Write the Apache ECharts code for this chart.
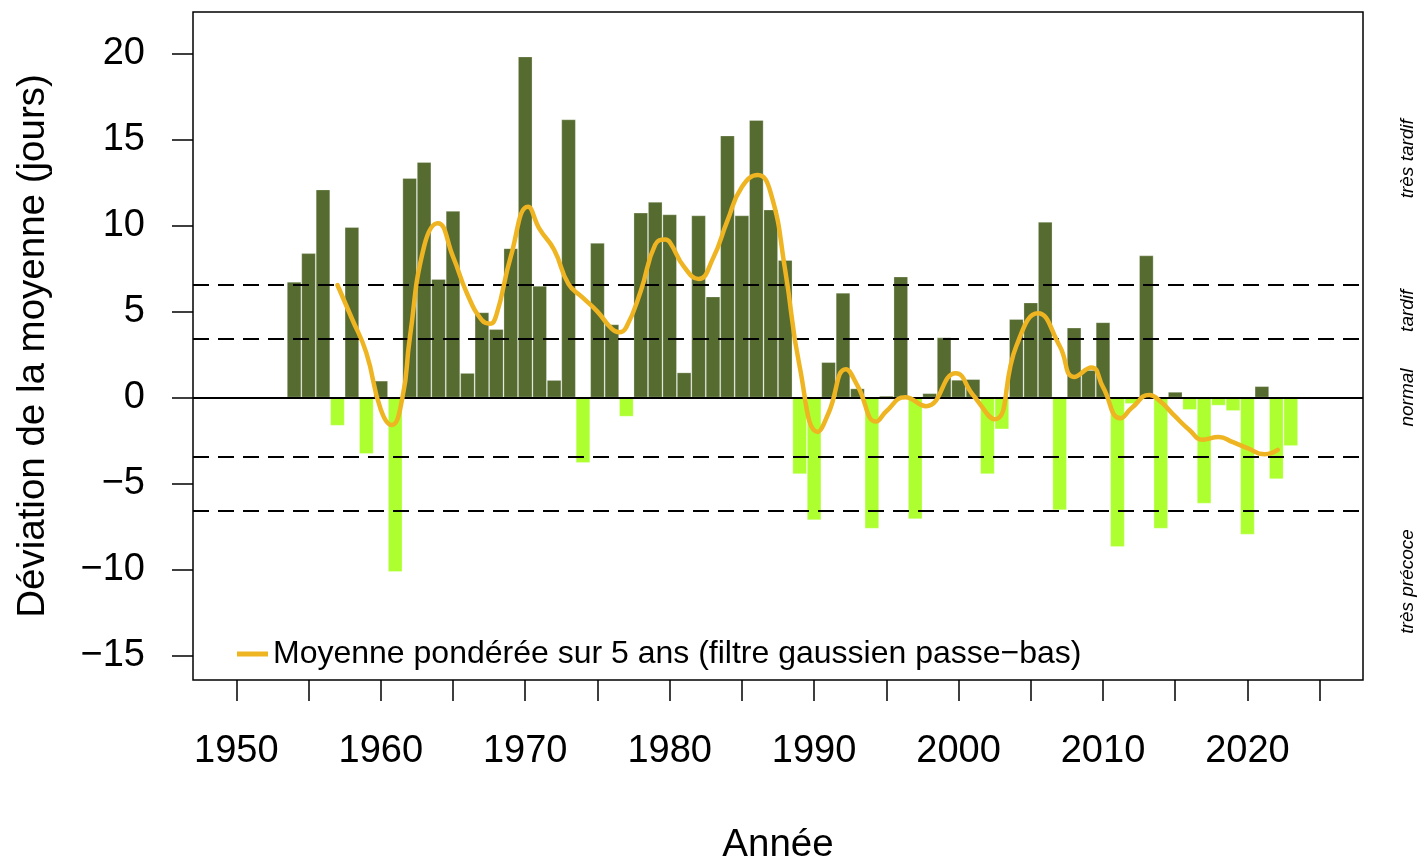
<!DOCTYPE html>
<html><head><meta charset="utf-8">
<script src="https://cdn.jsdelivr.net/npm/echarts@6/dist/echarts.min.js"></script>
<style>html,body{margin:0;padding:0;background:#fff}#c{width:1417px;height:857px}</style>
</head><body><div id="c"></div>
<script>
const barYears = [1954,1955,1956,1957,1958,1959,1960,1961,1962,1963,1964,1965,1966,1967,1968,1969,1970,1971,1972,1973,1974,1975,1976,1977,1978,1979,1980,1981,1982,1983,1984,1985,1986,1987,1988,1989,1990,1991,1992,1993,1994,1995,1996,1997,1998,1999,2000,2001,2002,2003,2004,2005,2006,2007,2008,2009,2010,2011,2012,2013,2014,2015,2016,2017,2018,2019,2020,2021,2022,2023];
const barValues = [6.74,8.40,12.11,-1.64,9.92,-3.28,0.98,-10.15,12.77,13.71,6.9,10.86,1.43,4.96,3.98,8.69,19.85,6.5,1.02,16.19,-3.81,9.0,4.26,-1.11,10.76,11.39,10.66,1.46,10.6,5.88,15.25,10.6,16.15,10.94,8.0,-4.46,-7.14,2.06,6.1,0.53,-7.63,0.1,7.04,-7.08,0.25,3.5,1.03,1.07,-4.46,-1.85,4.57,5.53,10.23,-6.56,4.07,1.6,4.38,-8.7,-0.37,8.27,-7.63,0.33,-0.72,-6.17,-0.47,-0.78,-7.98,0.66,-4.75,-2.82];
// smoothed curve (yearly readings plus its turning points)
const smoothX = [1957,1958,1959,1960,1960.75,1961.5,1962,1963,1963.95,1965,1966,1967,1967.55,1968,1969,1970.2,1971,1972,1973,1974,1975,1976,1976.5,1977,1978,1979,1979.7,1980,1981,1982,1983,1984,1985,1986.1,1987,1988,1989,1990.25,1991,1992.2,1993,1994.3,1995,1996.3,1997.75,1999.8,2001,2002.5,2004,2005.5,2007,2008,2009.2,2010,2011.2,2012,2013.2,2014,2015,2016,2016.9,2018,2019,2020,2021.2,2022.1];
const smoothY = [6.55,4.6,2.6,-0.7,-1.6,0.0,3.4,8.8,10.15,8.2,6.0,4.5,4.3,4.8,8.2,11.1,9.8,8.6,6.6,5.8,5.0,4.0,3.8,4.1,6.2,8.9,9.2,9.05,7.6,6.9,8.1,10.3,12.25,12.95,11.9,7.4,1.8,-2.0,-0.9,1.65,0.7,-1.4,-0.8,0.02,-0.5,1.42,0.15,-1.26,3.0,4.9,3.0,1.2,1.75,0.6,-1.2,-0.6,0.15,-0.25,-1.1,-1.9,-2.45,-2.3,-2.6,-2.95,-3.3,-3.05];
const thresholds = [6.58, 3.45, -3.45, -6.58];
const xTicks = [1950,1955,1960,1965,1970,1975,1980,1985,1990,1995,2000,2005,2010,2015,2020,2025];
const xLabels = [1950,1960,1970,1980,1990,2000,2010,2020];
const yTicks = [-15,-10,-5,0,5,10,15,20];
const bandLabels = ['très tardif','tardif','normal','très précoce'];
const bandLabelValues = [13.9, 5.05, 0, -10.7];
const lineName = 'Moyenne pondérée sur 5 ans (filtre gaussien passe\u2212bas)';

const FONT = "'Liberation Sans', Arial, Helvetica, sans-serif";
const chart = echarts.init(document.getElementById('c'), null, {renderer:'canvas'});
const minus = v => String(v).replace('-', '\u2212');

const option = {
  animation:false,
  backgroundColor:'#fff',
  grid:{left:193,right:54,top:12,bottom:177,show:true,borderColor:'#000',borderWidth:1.5,
    backgroundColor:'transparent',containLabel:false,outerBoundsMode:'none'},
  xAxis:{type:'value',min:1947,max:2028,
    name:'Année',nameLocation:'middle',nameGap:146,
    nameTextStyle:{fontSize:38.5,fontFamily:FONT,color:'#000'},
    axisLine:{show:false,onZero:false},
    axisTick:{show:true,length:21,lineStyle:{color:'#000',width:1.5},customValues:xTicks},
    axisLabel:{show:true,margin:53,fontSize:38,fontFamily:FONT,color:'#000',customValues:xLabels,formatter:v=>String(v)},
    splitLine:{show:false}},
  yAxis:{type:'value',min:-16.44,max:22.44,
    name:'Déviation de la moyenne (jours)',nameLocation:'middle',nameGap:140,
    nameTextStyle:{fontSize:38.5,fontFamily:FONT,color:'#000'},
    axisLine:{show:false,onZero:false},
    axisTick:{show:true,length:21,lineStyle:{color:'#000',width:1.5},customValues:yTicks},
    axisLabel:{show:true,margin:48,fontSize:38,fontFamily:FONT,color:'#000',customValues:yTicks,formatter:minus},
    splitLine:{show:false}},
  legend:{show:true,left:237,top:638,padding:0,icon:'rect',itemWidth:31,itemHeight:5,selectedMode:false,
    textStyle:{fontSize:32,fontFamily:FONT,color:'#000'},data:[lineName]},
  series:[
    {type:'bar',name:'dev',data:barYears.map((y,i)=>[y,barValues[i]]),barCategoryGap:'0%',z:2,
      itemStyle:{color:p=>p.value[1]>=0?'#556B2F':'#ADFF2F',borderColor:'rgba(255,255,255,0.35)',borderWidth:0.8},
      markLine:{silent:true,symbol:'none',label:{show:false},z:5,
        lineStyle:{color:'#000',width:2,type:[16,9]},
        data:[{yAxis:0,lineStyle:{type:'solid',width:2,color:'#000'}}].concat(thresholds.map(t=>({yAxis:t})))}},
    {type:'line',name:lineName,data:smoothX.map((x,i)=>[x,smoothY[i]]),smooth:0.5,symbol:'none',z:10,
      lineStyle:{color:'#EEB422',width:4.5,cap:'round',join:'round'},itemStyle:{color:'#EEB422'}}
  ]
};
chart.setOption(option);
chart.setOption({graphic:bandLabels.map((t,i)=>({type:'text',x:1408,
  y:chart.convertToPixel({yAxisIndex:0},bandLabelValues[i]),rotation:Math.PI/2,
  style:{text:t,font:"italic 19px 'Liberation Sans', Arial, sans-serif",fill:'#000',align:'center',verticalAlign:'middle'}}))});
</script></body></html>
